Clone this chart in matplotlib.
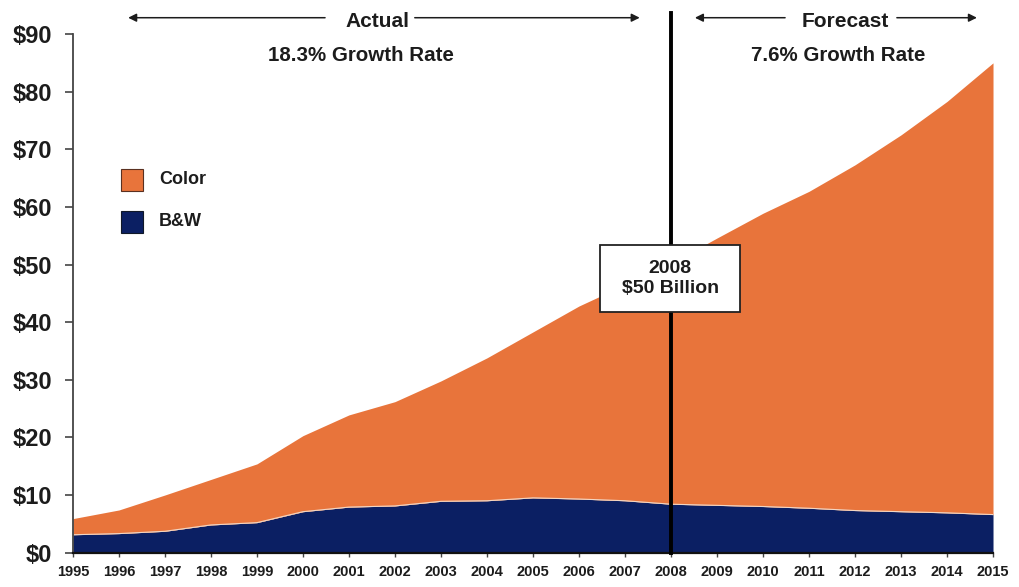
import numpy as np
import matplotlib.pyplot as plt
from matplotlib.patches import Rectangle
import matplotlib.transforms as mtransforms

plt.rcParams['font.family'] = ['Liberation Sans', 'DejaVu Sans']
plt.rcParams['font.weight'] = 'bold'

# printer market, $ billions
years = list(range(1995, 2016))
bw = [3.1, 3.3, 3.7, 4.8, 5.2, 7.1, 7.9, 8.1, 8.9, 9.0, 9.5,
      9.3, 9.0, 8.4, 8.2, 8.0, 7.7, 7.3, 7.1, 6.9, 6.6]
total = [5.9, 7.4, 10.0, 12.7, 15.4, 20.3, 23.9, 26.2, 29.8, 33.8, 38.3,
         42.8, 46.5, 50.2, 54.6, 58.9, 62.7, 67.3, 72.5, 78.3, 85.0]
yticks = [0, 10, 20, 30, 40, 50, 60, 70, 80, 90]

ORANGE = '#E8743B'
NAVY = '#0B1F63'
INK = '#1c1c1c'

x = np.array(years)
bw = np.array(bw)
total = np.array(total)

fig = plt.figure(figsize=(10.19, 5.87), dpi=100)
ax = fig.add_axes([0.0716, 0.0586, 0.9029, 0.8834])

ax.fill_between(x, 0, bw, color=NAVY, lw=0, label='B&W')
ax.fill_between(x, bw, total, color=ORANGE, lw=0, label='Color')
ax.plot(x, bw, color='#f2d6c4', lw=0.8)

ax.set_xlim(1995, 2015)
ax.set_ylim(0, 90)
ax.set_xticks(years)
ax.set_xticklabels([str(y) for y in years], fontsize=10.5, color=INK)
ax.set_yticks(yticks)
ax.set_yticklabels(['$%d' % v for v in yticks], fontsize=17, color=INK)
ax.tick_params(axis='y', direction='out', length=6, width=1.2, color='#444', pad=9)
ax.tick_params(axis='x', direction='out', length=3, width=1, color='#444', pad=6)
for s in ['top', 'right']:
    ax.spines[s].set_visible(False)
ax.spines['left'].set_color('#444')
ax.spines['left'].set_linewidth(1.3)
ax.spines['bottom'].set_color('#111')
ax.spines['bottom'].set_linewidth(1.6)

# 2008 divider
ax.plot([2008, 2008], [0, 93.7], color='black', lw=2.8, clip_on=False, zorder=4)

# legend swatches
sw = 22 / 5.762
ax.add_patch(Rectangle((1996.04, 62.8), 0.48, sw, facecolor=ORANGE, edgecolor='#5a3020', lw=0.8))
ax.add_patch(Rectangle((1996.04, 55.5), 0.48, sw, facecolor=NAVY, edgecolor='#101828', lw=0.8))
ax.text(1996.87, 64.7, 'Color', fontsize=13, va='center', color=INK)
ax.text(1996.87, 57.4, 'B&W', fontsize=13, va='center', color=INK)

# actual / forecast headers
trans = mtransforms.blended_transform_factory(ax.transData, ax.transAxes)
arrow = dict(arrowstyle='-|>', color=INK, lw=1.1, mutation_scale=12, shrinkA=0, shrinkB=0)
ya = 1.0315
for tail, head in [(2000.48, 1996.2), (2002.43, 2007.32), (2010.48, 2008.52), (2012.91, 2014.65)]:
    ax.annotate('', xy=(head, ya), xytext=(tail, ya), xycoords=trans, textcoords=trans,
                arrowprops=arrow, annotation_clip=False)
ax.text(2001.62, 1.0245, 'Actual', transform=trans, ha='center', va='center', fontsize=15,
        color=INK)
ax.text(2011.78, 1.0245, 'Forecast', transform=trans, ha='center', va='center', fontsize=15,
        color=INK)
ax.text(2001.26, 0.959, '18.3% Growth Rate', transform=trans, ha='center', va='center',
        fontsize=14.8, color=INK)
ax.text(2011.64, 0.959, '7.6% Growth Rate', transform=trans, ha='center', va='center',
        fontsize=14.8, color=INK)

# callout box on the divider
ax.add_patch(Rectangle((2006.46, 41.8), 3.04, 11.6, facecolor='white', edgecolor='#222',
                       lw=1.3, zorder=6))
ax.text(2007.98, 47.6, '2008\n$50 Billion', ha='center', va='center', fontsize=14,
        color=INK, linespacing=1.2, zorder=7)

fig.savefig('out.png', dpi=100)
